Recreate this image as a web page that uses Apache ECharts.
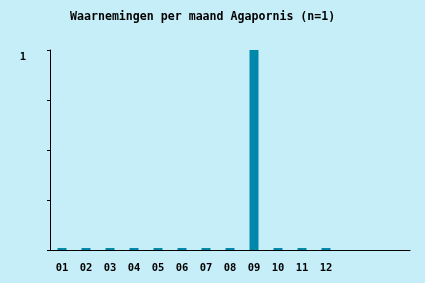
<!DOCTYPE html>
<html><head><meta charset="utf-8">
<script src="https://cdn.jsdelivr.net/npm/echarts@6/dist/echarts.min.js"></script>
<style>html,body{margin:0;padding:0;background:#c6eef8}#c{width:425px;height:283px}</style>
</head><body><div id="c"></div>
<script>
const titleText = "Waarnemingen per maand Agapornis (n=1)";
const categories = ["01","02","03","04","05","06","07","08","09","10","11","12","","",""];
const values = [0,0,0,0,0,0,0,0,1,0,0,0,null,null,null];
const yTicks = [0, 0.25, 0.5, 0.75, 1];
const yLabels = {1: "1"};
const chart = echarts.init(document.getElementById('c'));
const mono = "DejaVu Sans Mono";
chart.setOption({
  backgroundColor: "#c6eef8",
  animation: false,
  title: {text: titleText, left: 65, top: 6,
    textStyle: {fontFamily: mono, fontSize: 11.6, fontWeight: 'bold', color: '#000'}},
  grid: {left: 50, right: 15, top: 50, bottom: 33},
  xAxis: {type: 'category', data: categories, boundaryGap: true,
    axisLine: {lineStyle: {color: '#000', width: 1}},
    axisTick: {alignWithLabel: true, length: 3, inside: true, lineStyle: {color: '#000'},
      interval: function(i){return categories[i] !== "";}},
    axisLabel: {fontFamily: mono, fontSize: 10.5, fontWeight: 'bold', color: '#000', margin: 13}},
  yAxis: {type: 'value', min: 0, max: 1, interval: 0.25,
    axisLine: {show: true, lineStyle: {color: '#000', width: 1}},
    axisTick: {show: true, length: 3, lineStyle: {color: '#000'}},
    splitLine: {show: false},
    axisLabel: {fontFamily: mono, fontSize: 10.5, fontWeight: 'bold', color: '#000', margin: 24,
      verticalAlign: 'top', padding: [2, 0, 0, 0],
      formatter: function(v){return yLabels[v] !== undefined ? yLabels[v] : "";}}},
  series: [{type: 'bar', data: values, barWidth: 9, barMinHeight: 2,
    itemStyle: {color: '#0088aa'}}]
});
</script></body></html>
